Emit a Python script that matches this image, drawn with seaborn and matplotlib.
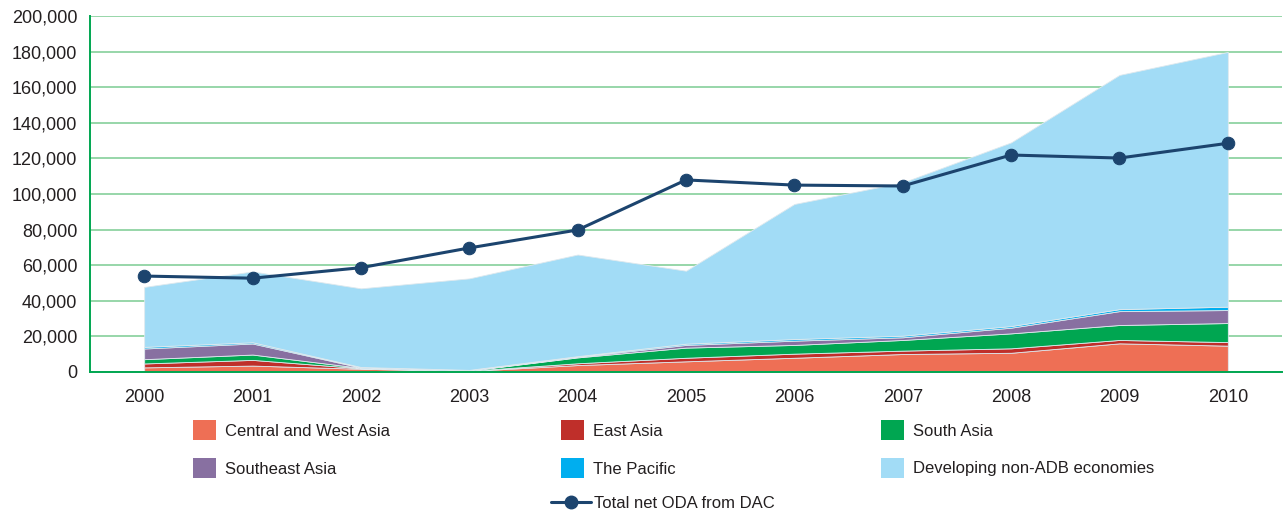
import matplotlib
matplotlib.use("Agg")
import matplotlib.pyplot as plt
import matplotlib.patches as mpatches
from matplotlib.lines import Line2D
from matplotlib.ticker import FuncFormatter, FixedLocator
import numpy as np
import pandas as pd
import seaborn as sns

years = [2000, 2001, 2002, 2003, 2004, 2005, 2006, 2007, 2008, 2009, 2010]

central_west_asia = [2.6, 3.6, 1.8, 0.6, 3.9, 6.0, 8.0, 10.1, 10.8, 16.1, 14.8]
east_asia = [2.2, 3.2, 0.3, 0.1, 1.0, 2.0, 2.3, 1.9, 2.5, 1.9, 2.0]
south_asia = [2.4, 3.0, 0.2, 0.1, 3.3, 5.7, 4.9, 6.0, 8.4, 8.4, 10.7]
southeast_asia = [6.0, 6.2, 0.2, 0.1, 0.3, 1.5, 2.4, 1.5, 3.2, 7.8, 7.3]
the_pacific = [0.9, 0.7, 0.3, 0.3, 0.4, 0.7, 0.9, 0.9, 0.9, 1.1, 1.9]
non_adb = [33.7, 39.8, 44.2, 51.4, 57.1, 41.0, 75.9, 86.1, 103.2, 131.6, 143.1]
total_oda = [53.9, 52.7, 58.6, 69.7, 79.8, 107.9, 105.0, 104.5, 121.9, 120.2, 128.5]

series_names = ["Central and West Asia", "East Asia", "South Asia",
                "Southeast Asia", "The Pacific", "Developing non-ADB economies"]
series_colors = ["#EE6F55", "#BF2F2A", "#00A651", "#8870A1", "#00AEEF", "#A2DCF6"]
line_name = "Total net ODA from DAC"
line_color = "#1C446E"

sns.set_style("white")
plt.rcParams["font.family"] = ["Liberation Sans", "DejaVu Sans"]

fig = plt.figure(figsize=(12.84, 5.17), dpi=100)
ax = fig.add_axes([90 / 1284, 1 - 372 / 517, 1192 / 1284, 356 / 517])

x = np.arange(len(years))
stack = np.array([central_west_asia, east_asia, south_asia,
                  southeast_asia, the_pacific, non_adb]) * 1000
ax.stackplot(x, stack, colors=series_colors, edgecolor="#dfe9ee",
             linewidth=0.6, zorder=2)

df = pd.DataFrame({"pos": x, "oda": np.array(total_oda) * 1000})
sns.lineplot(data=df, x="pos", y="oda", ax=ax, color=line_color,
             linewidth=2.2, marker="o", markersize=9,
             markeredgecolor=line_color, zorder=4)

grid_green = "#00A651"
ax.set_xlim(-0.5, len(years) - 0.5)
ax.set_ylim(0, 200000)
ax.yaxis.set_major_locator(FixedLocator(np.arange(0, 200001, 20000)))
ax.yaxis.set_major_formatter(FuncFormatter(lambda v, p: f"{int(v):,}"))
ax.set_xticks(x)
ax.set_xticklabels([str(y) for y in years])
ax.set_xticks(np.arange(-0.5, len(years), 1.0), minor=True)
ax.tick_params(axis="x", which="major", length=0, pad=12,
               labelsize=13, labelcolor="#231F20",
               labelfontfamily="Liberation Sans")
ax.tick_params(axis="x", which="minor", length=10, width=1.2,
               color=grid_green, direction="out")
ax.tick_params(axis="y", which="major", length=5, width=1.2,
               color=grid_green, direction="out", pad=4,
               labelsize=13, labelcolor="#231F20",
               labelfontfamily="Liberation Sans")

ax.grid(axis="y", color="#8FD3A3", linewidth=1.3, zorder=0)
ax.grid(axis="x", visible=False)
ax.set_axisbelow(True)
for side in ["top", "right"]:
    ax.spines[side].set_visible(False)
for side in ["left", "bottom"]:
    ax.spines[side].set_color(grid_green)
    ax.spines[side].set_linewidth(1.4)
ax.set_xlabel("")
ax.set_ylabel("")

# Legend: three columns of area swatches, then the line entry centred below
col_x = [193 / 1284, 561 / 1284, 881 / 1284]
order = [[0, 3], [1, 4], [2, 5]]
for cx, idxs in zip(col_x, order):
    handles = [mpatches.Patch(facecolor=series_colors[i], edgecolor="none",
                              label=series_names[i]) for i in idxs]
    leg = fig.legend(handles=handles, loc="upper left",
                     bbox_to_anchor=(cx, 1 - 420 / 517), frameon=False,
                     fontsize=12, handlelength=1.35, handleheight=1.5,
                     handletextpad=0.55, labelspacing=1.05, borderpad=0,
                     borderaxespad=0)
    for t in leg.get_texts():
        t.set_color("#231F20")

line_handle = Line2D([0], [0], color=line_color, linewidth=2.2, marker="o",
                     markersize=9, label=line_name)
leg2 = fig.legend(handles=[line_handle], loc="center left",
                  bbox_to_anchor=(551 / 1284, 1 - 503 / 517), frameon=False,
                  fontsize=12, handlelength=2.4, handletextpad=0.2,
                  borderpad=0, borderaxespad=0)
for t in leg2.get_texts():
    t.set_color("#231F20")

fig.savefig("out.png", dpi=100)
